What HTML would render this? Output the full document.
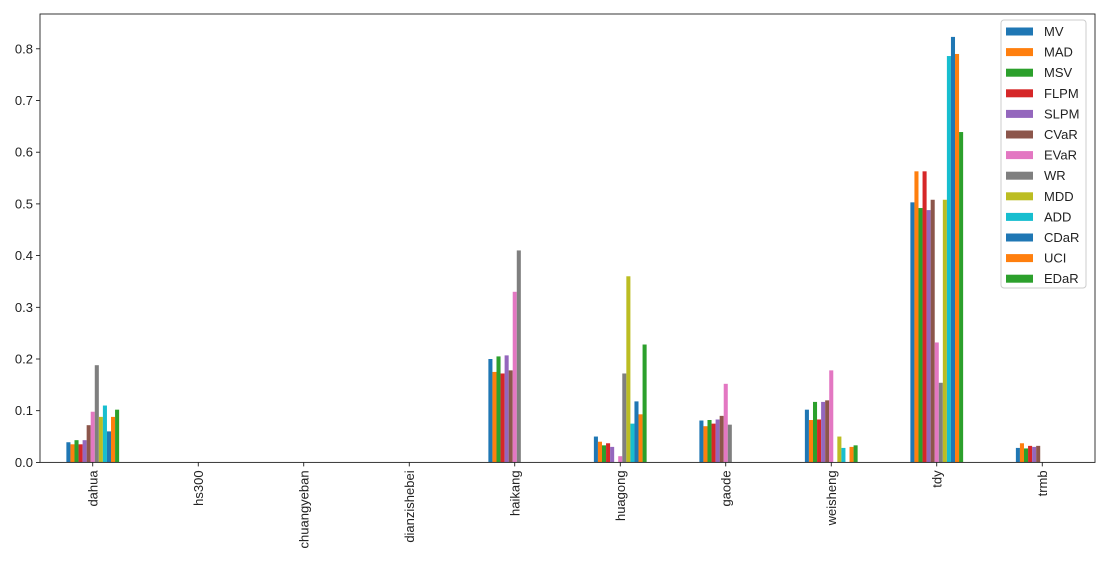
<!DOCTYPE html>
<html><head><meta charset="utf-8"><style>
html,body{margin:0;padding:0;background:#fff;}
svg{display:block;font-family:"Liberation Sans","DejaVu Sans",sans-serif;}
</style></head><body>
<svg id="s" width="1105" height="571" xmlns="http://www.w3.org/2000/svg"></svg>
<script>
const s=document.getElementById('s');
const L=40,R=1095,T=14,Y0=462.4,U=517;
const cols=['#1f77b4','#ff7f0e','#2ca02c','#d62728','#9467bd','#8c564b','#e377c2','#7f7f7f','#bcbd22','#17becf','#1f77b4','#ff7f0e','#2ca02c'];
const names=['MV','MAD','MSV','FLPM','SLPM','CVaR','EVaR','WR','MDD','ADD','CDaR','UCI','EDaR'];
const cats=['dahua','hs300','chuangyeban','dianzishebei','haikang','huagong','gaode','weisheng','tdy','trmb'];
const z=[0,0,0,0,0,0,0,0,0,0,0,0,0];
const data=[
[0.039,0.035,0.043,0.035,0.043,0.072,0.098,0.188,0.088,0.11,0.06,0.088,0.102],
z,z,z,
[0.2,0.175,0.205,0.172,0.207,0.178,0.33,0.41,0,0,0,0,0],
[0.05,0.04,0.033,0.037,0.03,0,0.012,0.172,0.36,0.075,0.118,0.093,0.228],
[0.081,0.07,0.082,0.075,0.083,0.09,0.152,0.073,0,0,0,0,0],
[0.102,0.082,0.117,0.083,0.117,0.12,0.178,0,0.05,0.028,0,0.03,0.033],
[0.503,0.563,0.492,0.563,0.488,0.508,0.232,0.154,0.508,0.786,0.823,0.79,0.639],
[0.028,0.037,0.027,0.032,0.03,0.032,0,0,0,0,0,0,0]];
let h='';
const sp=(R-L)/10,bw=sp*0.5/13;
data.forEach((d,i)=>{const c=L+sp*(i+0.5);d.forEach((v,j)=>{if(v>0){const x=c-sp*0.25+j*bw;const hh=v*U;h+=`<rect x="${x.toFixed(2)}" y="${(Y0-hh).toFixed(2)}" width="${bw.toFixed(2)}" height="${hh.toFixed(2)}" fill="${cols[j]}"/>`;}});
h+=`<line x1="${c}" y1="${Y0}" x2="${c}" y2="${Y0+4}" stroke="#000" stroke-width="0.8"/>`;
h+=`<text transform="translate(${c+4.5},${Y0+8}) rotate(-90)" text-anchor="end" font-size="13" fill="#222">${cats[i]}</text>`;});
for(let k=0;k<=8;k++){const y=Y0-k*0.1*U;h+=`<line x1="${L-4}" y1="${y}" x2="${L}" y2="${y}" stroke="#000" stroke-width="0.8"/><text x="${L-7}" y="${y+4.5}" text-anchor="end" font-size="13" fill="#222">${(k/10).toFixed(1)}</text>`;}
h+=`<rect x="${L}" y="${T}" width="${R-L}" height="${Y0-T}" fill="none" stroke="#222" stroke-width="0.9"/>`;
h+=`<rect x="1001" y="20" width="85" height="268" rx="3" fill="#fff" fill-opacity="0.8" stroke="#ccc"/>`;
names.forEach((n,j)=>{const y=31+j*20.6;h+=`<rect x="1006" y="${y-3.5}" width="27" height="8" fill="${cols[j]}"/><text x="1044" y="${y+5}" font-size="13" fill="#222">${n}</text>`;});
s.innerHTML=h;
</script>
</body></html>
